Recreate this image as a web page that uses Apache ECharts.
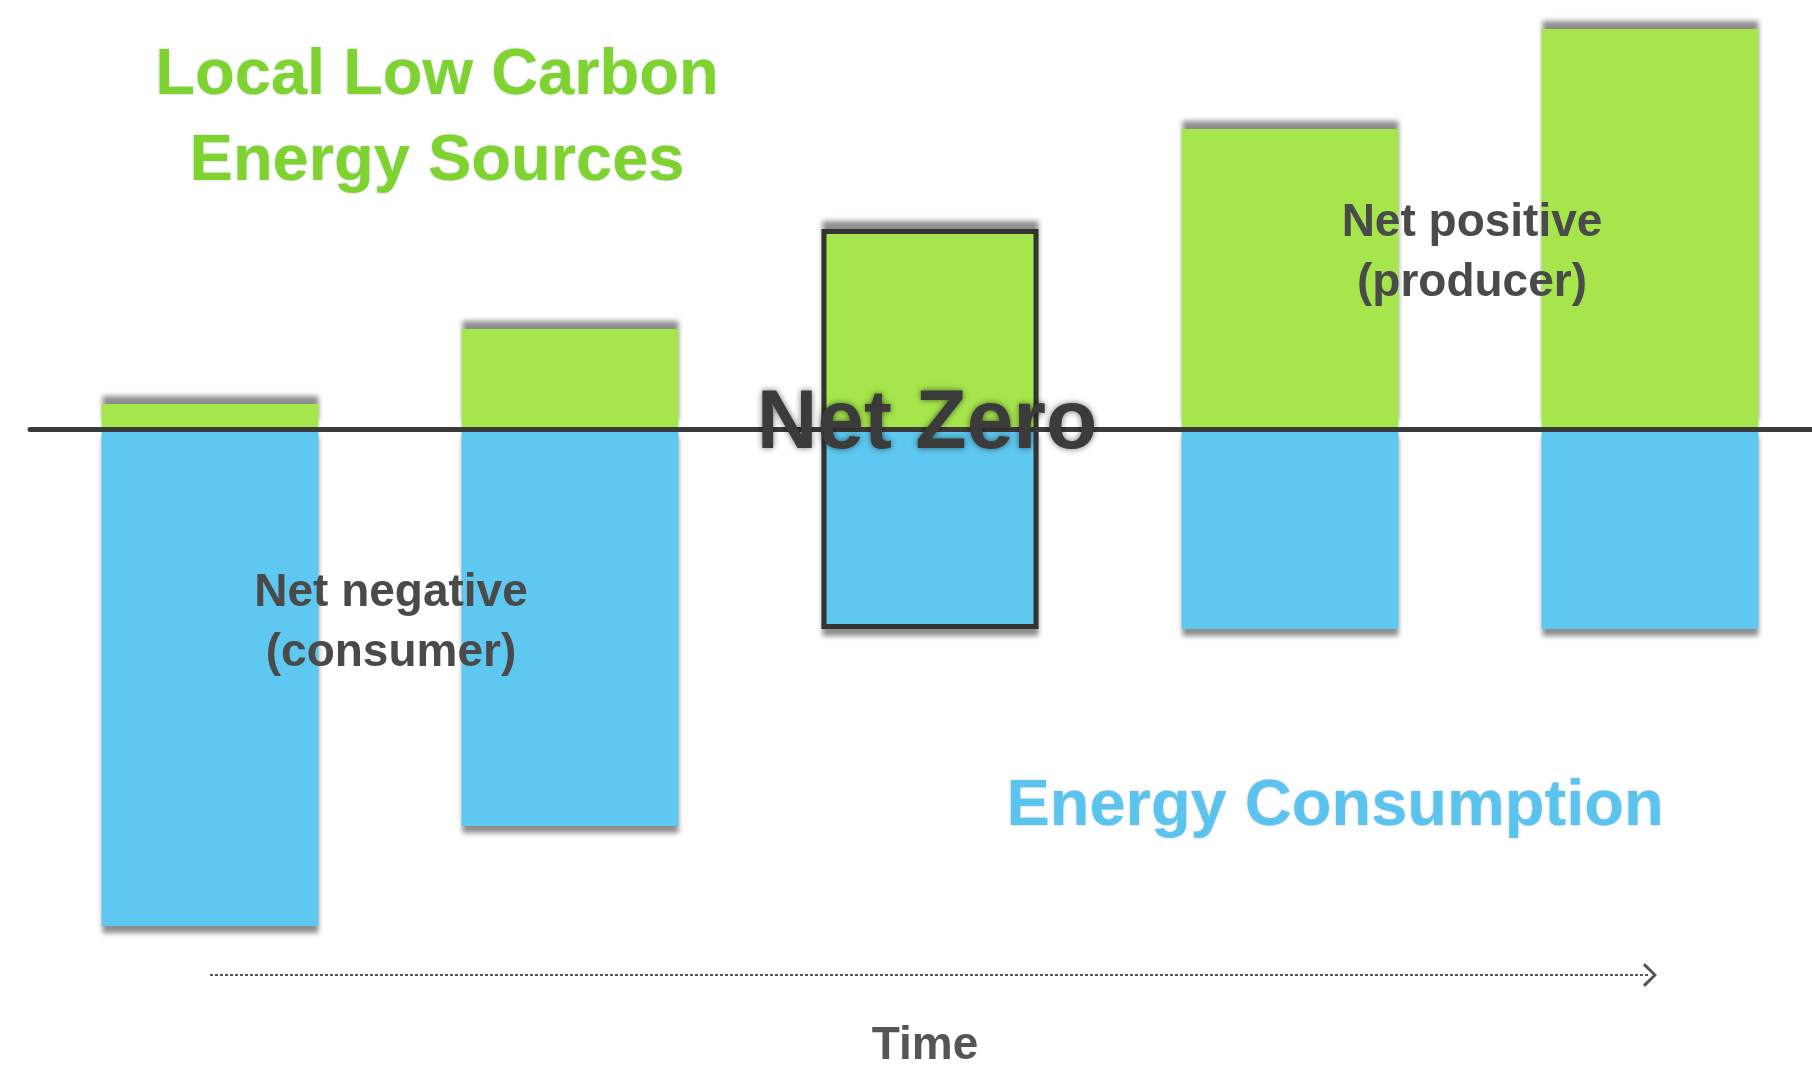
<!DOCTYPE html>
<html>
<head>
<meta charset="utf-8">
<script src="https://cdn.jsdelivr.net/npm/echarts@6/dist/echarts.min.js"></script>
<style>
html,body{margin:0;padding:0;background:#ffffff;overflow:hidden;width:1812px;height:1074px;}
#chart{width:1830px;height:1074px;}
</style>
</head>
<body>
<div id="chart"></div>
<script>
// ---- data ----
const categories = ['T1', 'T2', 'T3', 'T4', 'T5'];
const sourcesValues = [0.25, 1.0, 2.0, 3.0, 4.0];          // local low carbon energy sources (above net zero)
const consumptionValues = [-4.97, -3.97, -2.0, -2.0, -2.0]; // energy consumption (below net zero)
const netZeroIndex = 2;
const timeArrowLevel = -5.46;
const timeArrowStart = 0;      // category index where the time arrow starts
const timeArrowEnd = 3.975;    // category index where the time arrow ends
const yMin = -6;
const yMax = 4;

// ---- styles ----
const GREEN = '#a6e64c';
const BLUE = '#5ec8f0';
const DARK = '#3b3b3b';
const TEXT = '#4a4a4a';
const FONT = '"Liberation Sans", Arial, sans-serif';
const BAR_W = 217;

// outline of the net-zero bar: transparent base + bordered span
const outlineBase = categories.map((c, i) => i === netZeroIndex ? consumptionValues[i] : '-');
const outlineSpan = categories.map((c, i) => i === netZeroIndex ? sourcesValues[i] - consumptionValues[i] : '-');

const chevron = 'path://M0,12 L10,0 L20,12 L18,14 L10,4 L2,14 Z';

const chart = echarts.init(document.getElementById('chart'), null, { renderer: 'canvas' });

function txt(text, x, y, size, color, extra) {
  return {
    type: 'text',
    z: 100,
    style: Object.assign({
      text: text,
      x: x,
      y: y,
      align: 'center',
      verticalAlign: 'middle',
      font: 'bold ' + size + 'px ' + FONT,
      fill: color
    }, extra || {})
  };
}

const softShadow = { textShadowColor: 'rgba(120,120,120,0.35)', textShadowBlur: 3 };

chart.setOption({
  animation: false,
  backgroundColor: '#ffffff',
  grid: { left: 30, top: 29, width: 1800, height: 1000, containLabel: false },
  xAxis: {
    type: 'category',
    data: categories,
    z: 10,
    axisLine: { show: true, onZero: true, lineStyle: { color: DARK, width: 5 } },
    axisTick: { show: false },
    axisLabel: { show: false },
    splitLine: { show: false }
  },
  yAxis: {
    type: 'value',
    min: yMin,
    max: yMax,
    interval: 1,
    axisLine: { show: false },
    axisTick: { show: false },
    axisLabel: { show: false },
    splitLine: { show: false }
  },
  series: [
    {
      name: 'Local Low Carbon Energy Sources',
      type: 'bar',
      stack: 'energy',
      barWidth: BAR_W,
      barGap: '-100%',
      data: sourcesValues,
      itemStyle: {
        color: GREEN,
        shadowColor: 'rgba(80,80,80,0.65)',
        shadowBlur: 5,
        shadowOffsetY: -8
      }
    },
    {
      name: 'Energy Consumption',
      type: 'bar',
      stack: 'energy',
      barWidth: BAR_W,
      barGap: '-100%',
      data: consumptionValues,
      itemStyle: {
        color: BLUE,
        shadowColor: 'rgba(80,80,80,0.65)',
        shadowBlur: 5,
        shadowOffsetY: 7
      },
      markLine: {
        silent: true,
        symbol: ['none', chevron],
        symbolSize: [24, 14],
        label: { show: false },
        lineStyle: { color: '#555555', width: 2, type: [3, 2] },
        data: [[
          { coord: [timeArrowStart, timeArrowLevel] },
          { coord: [timeArrowEnd, timeArrowLevel] }
        ]]
      }
    },
    {
      name: 'outline-base',
      type: 'bar',
      stack: 'outline',
      stackStrategy: 'all',
      barWidth: BAR_W,
      barGap: '-100%',
      silent: true,
      data: outlineBase,
      itemStyle: { color: 'rgba(0,0,0,0)' }
    },
    {
      name: 'Net Zero outline',
      type: 'bar',
      stack: 'outline',
      stackStrategy: 'all',
      barWidth: BAR_W,
      barGap: '-100%',
      silent: true,
      z: 3,
      data: outlineSpan,
      itemStyle: { color: 'rgba(0,0,0,0)', borderColor: '#333333', borderWidth: 5 }
    }
  ],
  graphic: [
    txt('Local Low Carbon', 437, 76, 65, '#7fd330', softShadow),
    txt('Energy Sources', 437, 162, 65, '#7fd330', softShadow),
    txt('Energy Consumption', 1335, 807, 65, '#5bc4ee', softShadow),
    txt('Net Zero', 927, 425, 84, DARK, { textShadowColor: 'rgba(0,0,0,0.55)', textShadowBlur: 6 }),
    txt('Net negative', 391, 593, 46, TEXT),
    txt('(consumer)', 391, 653, 46, TEXT),
    txt('Net positive', 1472, 223, 46, TEXT),
    txt('(producer)', 1472, 283, 46, TEXT),
    txt('Time', 925, 1046, 46, '#555555')
  ]
});
</script>
</body>
</html>
